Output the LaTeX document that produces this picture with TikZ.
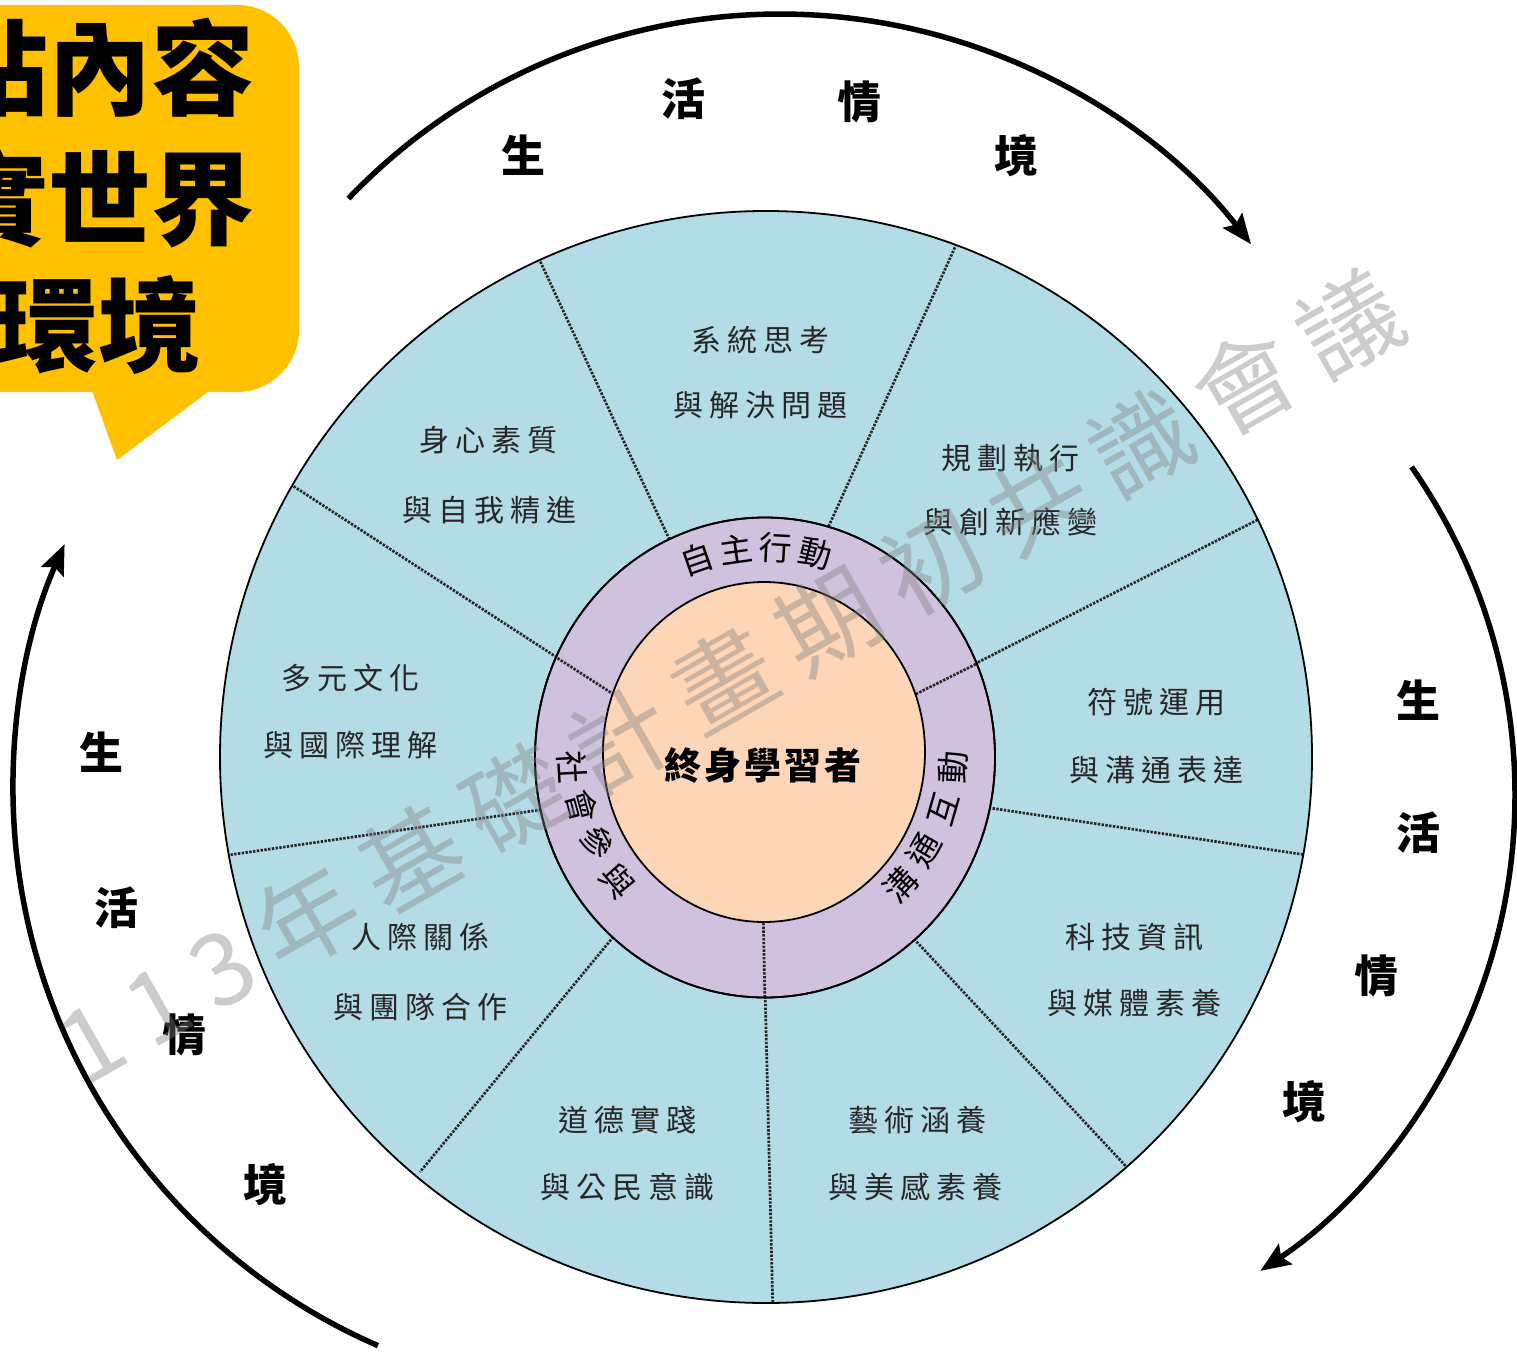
\documentclass[tikz,border=0pt]{standalone}
\usepackage{fontspec}
\newfontfamily\cjk{Noto Sans CJK TC}
\usetikzlibrary{arrows.meta}
\definecolor{sky}{RGB}{180,220,230}
\definecolor{lilac}{RGB}{208,194,222}
\definecolor{peach}{RGB}{252,214,182}
\definecolor{amber}{RGB}{255,192,0}
\newcommand\gp{\kern6pt}
\newcommand\gq{\kern3pt}
\newcommand\wg{\kern20pt}
\begin{document}
\begin{tikzpicture}[x=1pt,y=1pt,
  sector/.style={font=\cjk\fontsize{30}{30}\selectfont, text=black!85, inner sep=0pt},
  ringtxt/.style={font=\cjk\fontsize{33}{33}\selectfont, inner sep=0pt},
  ctx/.style={font=\cjk\bfseries\fontsize{44}{44}\selectfont, inner sep=0pt},
  divider/.style={line width=2.7pt, black!85, dash pattern=on 2.4pt off 1.4pt},
  flow/.style={line width=5.5pt, -{Stealth[length=30pt,width=24pt,inset=5pt]}},
  callout/.style={font=\cjk\bfseries\fontsize{103}{103}\selectfont, inner sep=0pt, anchor=east},
  rim/.style={line width=1.8pt, black}
  ]
\useasboundingbox (0,0) rectangle (1517,-1359);
\fill[white] (0,0) rectangle (1517,-1359);

% outer disc with nine sectors
\coordinate (c) at (766,-757);
\fill[sky] (c) circle[radius=546];
\begin{scope}
  \clip (c) circle[radius=546];
  \draw[divider] (671,-543) -- (534,-248);
  \draw[divider] (827,-530) -- (961,-234);
  \draw[divider] (900,-702) -- (1271,-513);
  \draw[divider] (970,-805) -- (1320,-857);
  \draw[divider] (901,-925) -- (1135,-1176);
  \draw[divider] (763,-905) -- (773,-1315);
  \draw[divider] (623,-925) -- (420,-1172);
  \draw[divider] (560,-807) -- (215,-857);
  \draw[divider] (627,-703) -- (287,-482);
\end{scope}
\draw[rim] (c) circle[radius=546];

% ring of three
\coordinate (rc) at (765,-757.5);
\draw[rim, fill=lilac] (rc) ellipse[x radius=230, y radius=240];
\begin{scope}
  \clip (rc) ellipse[x radius=230, y radius=240];
  \draw[divider] (986,-659) -- (900,-702);
  \draw[divider] (765,-1005) -- (763,-905);
  \draw[divider] (548,-652) -- (627,-703);
\end{scope}
\draw[rim] (rc) ellipse[x radius=230, y radius=240];

% core
\draw[rim, fill=peach] (764,-752) ellipse[x radius=161, y radius=170];
\node[font=\cjk\bfseries\fontsize{37}{37}\selectfont, inner sep=0pt] (core) at (763,-765) {終\gq 身\gq 學\gq 習\gq 者};

% ring labels
\begin{scope}[shift={(765,-757.5)}]
  \node[ringtxt, rotate=19]  (a1) at (109:210) {自};
  \node[ringtxt, rotate=8]   (a2) at (98:210)  {主};
  \node[ringtxt, rotate=-3]  (a3) at (87:210)  {行};
  \node[ringtxt, rotate=-14] (a4) at (76:210)  {動};
  \node[ringtxt, rotate=47]  (b1) at (-43:186) {溝};
  \node[ringtxt, rotate=60]  (b2) at (-30:184) {通};
  \node[ringtxt, rotate=74]  (b3) at (-16:186) {互};
  \node[ringtxt, rotate=87]  (b4) at (-3:188)  {動};
  \node[ringtxt, rotate=-87] (s1) at (183:193) {社};
  \node[ringtxt, rotate=-75] (s2) at (195:189) {會};
  \node[ringtxt, rotate=-63] (s3) at (207:188) {參};
  \node[ringtxt, rotate=-50] (s4) at (220:192) {與};
\end{scope}

% sector labels
\node[sector] (p1a) at (760,-340) {系\gp 統\gp 思\gp 考};
\node[sector] (p1b) at (760,-405) {與\gp 解\gp 決\gp 問\gp 題};
\node[sector] (p2a) at (1010,-458) {規\gp 劃\gp 執\gp 行};
\node[sector] (p2b) at (1010,-522) {與\gp 創\gp 新\gp 應\gp 變};
\node[sector] (p3a) at (1156,-702) {符\gp 號\gp 運\gp 用};
\node[sector] (p3b) at (1156,-770) {與\gp 溝\gp 通\gp 表\gp 達};
\node[sector] (p4a) at (1134,-937) {科\gp 技\gp 資\gp 訊};
\node[sector] (p4b) at (1134,-1003) {與\gp 媒\gp 體\gp 素\gp 養};
\node[sector] (p5a) at (917,-1120) {藝\gp 術\gp 涵\gp 養};
\node[sector] (p5b) at (915,-1187) {與\gp 美\gp 感\gp 素\gp 養};
\node[sector] (p6a) at (627,-1120) {道\gp 德\gp 實\gp 踐};
\node[sector] (p6b) at (627,-1187) {與\gp 公\gp 民\gp 意\gp 識};
\node[sector] (p7a) at (420,-937) {人\gp 際\gp 關\gp 係};
\node[sector] (p7b) at (420,-1007) {與\gp 團\gp 隊\gp 合\gp 作};
\node[sector] (p8a) at (350,-678) {多\gp 元\gp 文\gp 化};
\node[sector] (p8b) at (350,-745) {與\gp 國\gp 際\gp 理\gp 解};
\node[sector] (p9a) at (488,-440) {身\gp 心\gp 素\gp 質};
\node[sector] (p9b) at (489,-510) {與\gp 自\gp 我\gp 精\gp 進};

% context arcs
\draw[flow] ([shift={(136.3:597)}]780,-611) arc[start angle=136.3, end angle=37.9, radius=597];
\draw[flow] ([shift={(35:572)}]943,-795) arc[start angle=35, end angle=-56.3, radius=572];
\draw[flow] ([shift={(246.5:607)}]620,-789) arc[start angle=246.5, end angle=156.2, radius=607];

\node[ctx] (t1) at (523,-155) {生};
\node[ctx] (t2) at (683,-99) {活};
\node[ctx] (t3) at (859,-102) {情};
\node[ctx] (t4) at (1016,-156) {境};
\node[ctx] (r1) at (1418,-700) {生};
\node[ctx] (r2) at (1418,-833) {活};
\node[ctx] (r3) at (1376,-976) {情};
\node[ctx] (r4) at (1304,-1102) {境};
\node[ctx] (l1) at (101,-752) {生};
\node[ctx] (l2) at (116,-908) {活};
\node[ctx] (l3) at (184,-1035) {情};
\node[ctx] (l4) at (265,-1185) {境};

% callout
\fill[amber, rounded corners=62] (-140,-5) rectangle (299,-392);
\fill[amber] (90,-385) -- (117,-460) -- (217,-385) -- cycle;
\node[callout] (k1) at (255,-68) {站內容};
\node[callout] (k2) at (255,-198) {實世界};
\node[callout] (k3) at (202,-325) {環境};

% watermark
\node[font=\cjk\fontsize{100}{100}\selectfont, text=gray, text opacity=0.4, rotate=29.7, inner sep=0pt] (wm) at (730,-677)
  {1\wg 1\wg 3\wg 年\wg 基\wg 礎\wg 計\wg 畫\wg 期\wg 初\wg 共\wg 識\wg 會\wg 議};
\end{tikzpicture}
\end{document}
